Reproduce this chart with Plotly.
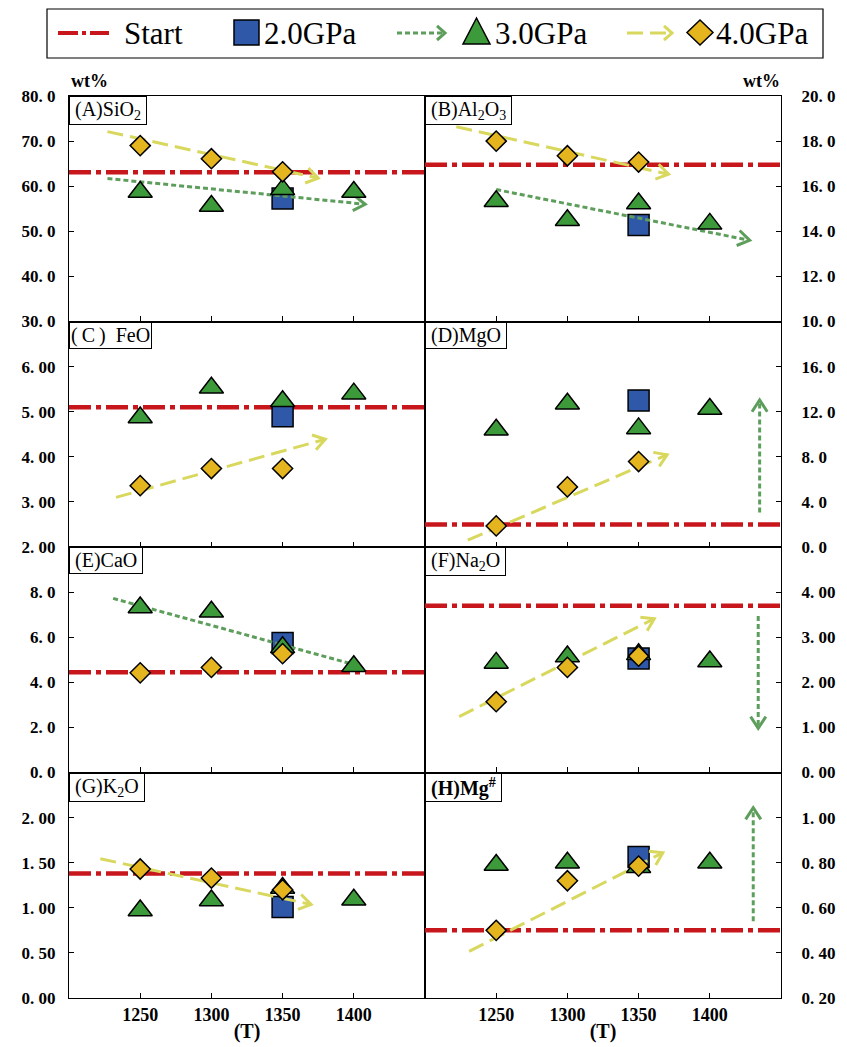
import math
import plotly.graph_objects as go
from plotly.subplots import make_subplots

# ---------------- data ----------------
temps = [1250, 1300, 1350, 1400]          # 3.0 GPa runs
temps_4gpa = [1250, 1300, 1350]           # 4.0 GPa runs
temps_2gpa = [1350]                       # 2.0 GPa run

panel_names = ["(A)SiO<sub>2</sub>", "(B)Al<sub>2</sub>O<sub>3</sub>", "(\u2009C\u2009)\u2002FeO", "(D)MgO",
               "(E)CaO", "(F)Na<sub>2</sub>O", "(G)K<sub>2</sub>O", "<b>(H)Mg<sup>#</sup></b>"]

start_values = [63.1, 16.95, 5.10, 2.0, 4.45, 3.70, 1.38, 0.50]
gpa2_values = [57.3, 14.28, 4.90, 13.0, 5.74, 2.53, 1.01, 0.825]

sio2_3gpa = [58.7, 55.6, 59.3, 58.7]
al2o3_3gpa = [15.33, 14.49, 15.23, 14.33]
feo_3gpa = [4.87, 5.53, 5.23, 5.40]
mgo_3gpa = [10.4, 12.71, 10.52, 12.24]
cao_3gpa = [7.32, 7.13, 5.55, 4.71]
na2o_3gpa = [2.43, 2.57, 2.62, 2.46]
k2o_3gpa = [0.97, 1.08, 1.22, 1.09]
mgno_3gpa = [0.79, 0.80, 0.78, 0.80]

sio2_4gpa = [69.0, 66.1, 63.2]
al2o3_4gpa = [18.0, 17.35, 17.07]
feo_4gpa = [3.36, 3.74, 3.74]
mgo_4gpa = [1.87, 5.33, 7.58]
cao_4gpa = [4.42, 4.66, 5.27]
na2o_4gpa = [1.57, 2.33, 2.58]
k2o_4gpa = [1.43, 1.33, 1.20]
mgno_4gpa = [0.50, 0.72, 0.785]

gpa3_series = [sio2_3gpa, al2o3_3gpa, feo_3gpa, mgo_3gpa, cao_3gpa, na2o_3gpa, k2o_3gpa, mgno_3gpa]
gpa4_series = [sio2_4gpa, al2o3_4gpa, feo_4gpa, mgo_4gpa, cao_4gpa, na2o_4gpa, k2o_4gpa, mgno_4gpa]

# y-axis ranges and tick labels per panel
y_ranges = [[30, 80], [10, 20], [2, 7], [0, 20], [0, 10], [0, 5], [0, 2.5], [0.2, 1.2]]
y_tickvals = [[30, 40, 50, 60, 70, 80], [10, 12, 14, 16, 18, 20], [2, 3, 4, 5, 6],
              [0, 4, 8, 12, 16], [0, 2, 4, 6, 8], [0, 1, 2, 3, 4], [0, 0.5, 1.0, 1.5, 2.0],
              [0.2, 0.4, 0.6, 0.8, 1.0]]
y_ticktext = [["30. 0", "40. 0", "50. 0", "60. 0", "70. 0", "80. 0"],
              ["10. 0", "12. 0", "14. 0", "16. 0", "18. 0", "20. 0"],
              ["2. 00", "3. 00", "4. 00", "5. 00", "6. 00"],
              ["0. 0", "4. 0", "8. 0", "12. 0", "16. 0"],
              ["0. 0", "2. 0", "4. 0", "6. 0", "8. 0"],
              ["0. 00", "1. 00", "2. 00", "3. 00", "4. 00"],
              ["0. 00", "0. 50", "1. 00", "1. 50", "2. 00"],
              ["0. 20", "0. 40", "0. 60", "0. 80", "1. 00"]]
x_range = [1200, 1450]
x_ticktext = ["1250", "1300", "1350", "1400"]

# trend arrows: (panel index, kind, x0, y0, x1, y1, head)
arrows = [
    (0, "g", 1227, 61.7, 1408, 56.0, True),
    (0, "y", 1227, 72.1, 1375, 61.8, True),
    (1, "y", 1222, 18.64, 1371, 16.53, True),
    (1, "g", 1250, 15.85, 1428, 13.6, True),
    (2, "y", 1233, 3.10, 1380, 4.39, True),
    (3, "y", 1230, 0.6, 1370, 8.18, True),
    (3, "g", 1435, 3.05, 1435, 13.04, True),
    (4, "g", 1231, 7.72, 1400, 4.79, False),
    (5, "y", 1224, 1.24, 1361, 3.41, True),
    (5, "g", 1434, 3.47, 1434, 0.98, True),
    (6, "y", 1222, 1.544, 1370, 1.037, True),
    (7, "y", 1231, 0.407, 1367, 0.844, True),
    (7, "g", 1430.5, 0.54, 1430.5, 1.044, True),
]

# ---------------- style ----------------
OFF = 8  # page body margin
W, H = 847 - OFF, 1047 - OFF
ML, MT = 69 - OFF, 96 - OFF
MR, MB = W - (781 - OFF), H - (998 - OFF)
PW, PH = W - ML - MR, H - MT - MB
SERIF = "Liberation Serif, Times New Roman, serif"
RED = "#C8161D"
BLUE = "#2F58A8"
GREEN_M = "#3D9A3A"
YELLOW_M = "#E5B520"
GREEN_L = "#5E9E5C"
YELLOW_L = "#D9D85E"
START_DASH = "22px,5px,5px,5px"
GDASH = "5px,3px"
YDASH = "16px,7px"
THIN = "\u2009"

fig = make_subplots(rows=4, cols=2, horizontal_spacing=0, vertical_spacing=0)


def rc(i):
    return i // 2 + 1, i % 2 + 1


def chevron(x0, y0, x1, y1, xr, yr, L=14, ang=33):
    sx = (PW / 2) / (xr[1] - xr[0])
    sy = (PH / 4) / (yr[1] - yr[0])
    dx, dy = (x1 - x0) * sx, (y1 - y0) * sy
    n = math.hypot(dx, dy)
    bx, by = -dx / n, -dy / n
    xs, ys = [], []
    for a in (math.radians(ang), None, -math.radians(ang)):
        if a is None:
            xs.append(x1)
            ys.append(y1)
            continue
        c, s = math.cos(a), math.sin(a)
        ex, ey = bx * c - by * s, bx * s + by * c
        xs.append(x1 + L * ex / sx)
        ys.append(y1 + L * ey / sy)
    return xs, ys


for i in range(8):
    r, c = rc(i)
    # start line
    fig.add_trace(go.Scatter(x=x_range, y=[start_values[i]] * 2, mode="lines",
                             line=dict(color=RED, width=4.5, dash=START_DASH),
                             showlegend=False, hoverinfo="skip"), row=r, col=c)
    # 2.0 GPa
    fig.add_trace(go.Scatter(x=temps_2gpa, y=[gpa2_values[i]], mode="markers",
                             marker=dict(symbol="square", size=21, color=BLUE,
                                         line=dict(color="black", width=1.5)),
                             showlegend=False), row=r, col=c)
    # arrows
    for (p, kind, x0, y0, x1, y1, head) in arrows:
        if p != i:
            continue
        col = GREEN_L if kind == "g" else YELLOW_L
        dash = GDASH if kind == "g" else YDASH
        fig.add_trace(go.Scatter(x=[x0, x1], y=[y0, y1], mode="lines",
                                 line=dict(color=col, width=3, dash=dash),
                                 showlegend=False, hoverinfo="skip"), row=r, col=c)
        if head:
            hx, hy = chevron(x0, y0, x1, y1, x_range, y_ranges[i])
            fig.add_trace(go.Scatter(x=hx, y=hy, mode="lines",
                                     line=dict(color=col, width=3),
                                     showlegend=False, hoverinfo="skip"), row=r, col=c)
    # 3.0 GPa
    fig.add_trace(go.Scatter(x=temps, y=gpa3_series[i], mode="markers",
                             marker=dict(symbol="triangle-up", size=21, color=GREEN_M,
                                         line=dict(color="black", width=1.5)),
                             showlegend=False), row=r, col=c)
    # 4.0 GPa
    fig.add_trace(go.Scatter(x=temps_4gpa, y=gpa4_series[i], mode="markers",
                             marker=dict(symbol="diamond", size=15.5, color=YELLOW_M,
                                         line=dict(color="black", width=1.5)),
                             showlegend=False), row=r, col=c)

    fig.update_xaxes(range=x_range, tickvals=temps, ticktext=x_ticktext,
                     ticks="inside", ticklen=5, tickcolor="black", tickwidth=1.2,
                     showline=True, mirror=True, linecolor="black", linewidth=1.2,
                     showgrid=False, zeroline=False, automargin=False,
                     showticklabels=(r == 4),
                     tickfont=dict(family=SERIF, size=18, color="black", weight="bold"),
                     row=r, col=c)
    if r == 4:
        fig.update_xaxes(title=dict(text="(T)", standoff=0,
                                    font=dict(family=SERIF, size=20, color="black", weight="bold")),
                         row=r, col=c)
    fig.update_yaxes(range=y_ranges[i], tickvals=y_tickvals[i], ticktext=y_ticktext[i],
                     ticks="inside", ticklen=5, tickcolor="black", tickwidth=1.2,
                     showline=True, mirror=True, linecolor="black", linewidth=1.2,
                     showgrid=False, zeroline=False, automargin=False,
                     side="left" if c == 1 else "right",
                     ticklabelstandoff=9 if c == 1 else 16,
                     tickfont=dict(family=SERIF, size=17, color="black", weight="bold"),
                     row=r, col=c)

    # panel label box
    xref = "x domain" if i == 0 else f"x{i + 1} domain"
    yref = "y domain" if i == 0 else f"y{i + 1} domain"
    label_text = panel_names[i] if i == 2 else THIN + panel_names[i] + THIN
    fig.add_annotation(x=0, y=1, xref=xref, yref=yref, xanchor="left", yanchor="top",
                       text=label_text, showarrow=False,
                       font=dict(family=SERIF, size=20, color="black"),
                       bgcolor="white", bordercolor="black", borderwidth=1, borderpad=1)


# ---------------- legend (drawn in paper coords; inputs in page pixels) ----------------
def pp(xp, yp):
    return (xp - OFF - ML) / PW, (H - MB - (yp - OFF)) / PH


shapes = []


def add_line(x0, y0, x1, y1, color, width, dash=None):
    a, b = pp(x0, y0)
    c2, d = pp(x1, y1)
    ln = dict(color=color, width=width)
    if dash:
        ln["dash"] = dash
    shapes.append(dict(type="line", xref="paper", yref="paper", x0=a, y0=b, x1=c2, y1=d, line=ln))


def add_path(pts, fill, lc, lw, close=True):
    s = ""
    for k, (xp, yp) in enumerate(pts):
        a, b = pp(xp, yp)
        s += ("M" if k == 0 else "L") + f"{a:.5f},{b:.5f}"
    if close:
        s += "Z"
    shapes.append(dict(type="path", xref="paper", yref="paper", path=s,
                       fillcolor=fill, line=dict(color=lc, width=lw)))


# border
bx0, by0 = pp(47, 9)
bx1, by1 = pp(823, 58)
shapes.append(dict(type="rect", xref="paper", yref="paper", x0=bx0, y0=by1, x1=bx1, y1=by0,
                   line=dict(color="black", width=1.2), fillcolor="white", layer="below"))
# start
add_line(58, 33, 109, 33, RED, 4, "20px,4px,4px,4px")
# square
add_path([(234, 20), (259, 20), (259, 45), (234, 45)], BLUE, "black", 1.5)
# green arrow + triangle
add_line(397, 33, 443, 33, GREEN_L, 3, "5px,3px")
add_path([(437, 26), (445, 33), (437, 40)], "rgba(0,0,0,0)", GREEN_L, 3, close=False)
add_path([(463, 44), (490, 44), (476.5, 18)], GREEN_M, "black", 1.5)
# yellow arrow + diamond
add_line(627, 33, 670, 33, YELLOW_L, 3, "16px,7px")
add_path([(664, 26), (672, 33), (664, 40)], "rgba(0,0,0,0)", YELLOW_L, 3, close=False)
add_path([(700, 20), (713, 32.5), (700, 45), (687, 32.5)], YELLOW_M, "black", 1.5)

legend_labels = ["Start", "2.0GPa", "3.0GPa", "4.0GPa"]
legend_x = [122, 262, 493, 714]
for lab, lx in zip(legend_labels, legend_x):
    a, b = pp(lx, 33)
    fig.add_annotation(x=a, y=b, xref="paper", yref="paper", xanchor="left", yanchor="middle",
                       text=lab, showarrow=False, font=dict(family=SERIF, size=31, color="black"))

# wt% labels
for xp in (89, 761):
    a, b = pp(xp, 81)
    fig.add_annotation(x=a, y=b, xref="paper", yref="paper", xanchor="center", yanchor="middle",
                       text="wt%", showarrow=False,
                       font=dict(family=SERIF, size=18, color="black", weight="bold"))

fig.update_layout(width=W, height=H, margin=dict(l=ML, r=MR, t=MT, b=MB, autoexpand=False),
                  plot_bgcolor="white", paper_bgcolor="white", shapes=shapes,
                  showlegend=False)

fig.write_html("out.html")
